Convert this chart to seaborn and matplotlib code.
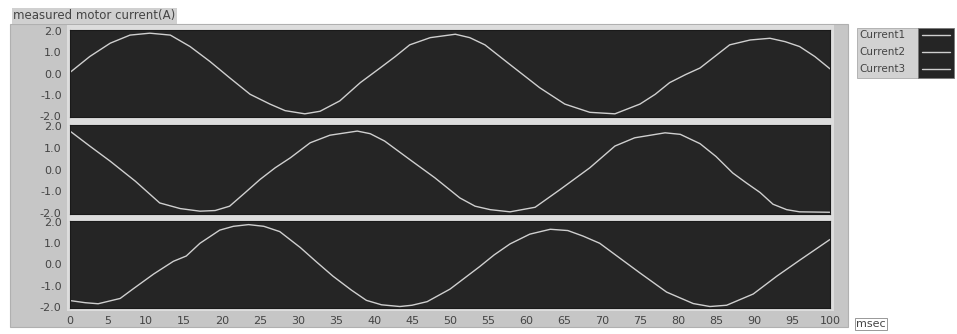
import matplotlib
matplotlib.use("Agg")
import matplotlib.pyplot as plt
from matplotlib.patches import Rectangle
from matplotlib.lines import Line2D
import pandas as pd
import seaborn as sns

# Phase currents of the motor, time in msec, current in A
t1 = [0, 2.6, 5.3, 7.9, 10.5, 13.2, 15.8, 18.4, 21, 23.7, 26.3, 28.3, 30.9, 32.9,
      35.5, 38.2, 40.8, 42.8, 44.7, 47.4, 50.7, 52.6, 54.6, 57.9, 61.8, 65.1, 68.4,
      71.7, 75, 77, 78.9, 81, 82.9, 86.8, 89.5, 92.1, 94.1, 96, 98, 100]
i1 = [0.05, 0.8, 1.43, 1.81, 1.9, 1.81, 1.27, 0.57, -0.2, -0.98, -1.44, -1.75, -1.9,
      -1.78, -1.29, -0.43, 0.26, 0.8, 1.35, 1.69, 1.85, 1.69, 1.35, 0.42, -0.67, -1.44,
      -1.83, -1.9, -1.44, -0.98, -0.43, -0.05, 0.26, 1.35, 1.58, 1.66, 1.5, 1.27, 0.8, 0.22]

t2 = [0, 2.6, 5.3, 8.6, 11.8, 14.5, 17.1, 19.1, 21, 23, 25, 27, 29, 31.6, 34.2, 37.8,
      39.5, 41.4, 44.7, 48, 51.3, 53.3, 55.3, 57.9, 61.2, 64.5, 68.4, 71.7, 74.3, 78.3,
      80.3, 82.9, 85, 87.2, 89, 90.8, 92.5, 94.3, 96, 100]
i2 = [1.77, 1.08, 0.38, -0.54, -1.54, -1.8, -1.92, -1.89, -1.69, -1.08, -0.46, 0.08,
      0.54, 1.23, 1.58, 1.77, 1.65, 1.31, 0.46, -0.38, -1.31, -1.69, -1.85, -1.95, -1.74,
      -0.92, 0.08, 1.08, 1.46, 1.69, 1.62, 1.19, 0.6, -0.16, -0.62, -1.06, -1.6, -1.85,
      -1.95, -1.97]

t3 = [0, 2, 3.7, 6.6, 8.3, 11, 13.6, 15.3, 17.1, 19.7, 21.5, 23.5, 25.5, 27.6, 30.3,
      32.5, 34.6, 37, 39, 41, 43.4, 45, 47, 50, 53.9, 55.8, 57.9, 60.5, 63.2, 65.5, 67.5,
      69.7, 71.4, 75, 78.5, 82, 84.2, 86.4, 89.9, 93, 96, 100]
i3 = [-1.7, -1.8, -1.85, -1.6, -1.15, -0.45, 0.15, 0.4, 1.0, 1.62, 1.8, 1.88, 1.8, 1.55,
      0.8, 0.1, -0.55, -1.2, -1.69, -1.9, -1.98, -1.92, -1.75, -1.16, -0.1, 0.45, 0.97,
      1.43, 1.66, 1.6, 1.34, 1.0, 0.55, -0.4, -1.3, -1.84, -1.98, -1.92, -1.39, -0.55,
      0.2, 1.18]

series_names = ["Current1", "Current2", "Current3"]
y_ticks = [2.0, 1.0, 0.0, -1.0, -2.0]
y_tick_labels = ["2.0", "1.0", "0.0", "-1.0", "-2.0"]
x_ticks = list(range(0, 101, 5))
title_text = "measured motor current(A)"
x_unit = "msec"

df = pd.concat([
    pd.DataFrame({"time": t, "current": v, "phase": n})
    for t, v, n in zip([t1, t2, t3], [i1, i2, i3], series_names)
])

sns.set_style("dark")
plt.rcParams["font.family"] = ["DejaVu Sans"]

W, H = 957, 334
fig = plt.figure(figsize=(W / 100, H / 100), dpi=100, facecolor="white")


def fig_rect(x0, y0, x1, y1, **kw):
    """Rectangle given in pixel coordinates measured from the top-left."""
    fig.patches.append(Rectangle((x0 / W, 1 - y1 / H), (x1 - x0) / W, (y1 - y0) / H,
                                 transform=fig.transFigure, figure=fig, **kw))


# panel frame and the lighter plotting column
fig_rect(10, 24, 848, 327, facecolor="#c6c6c6", edgecolor="#b0b0b0", lw=0.8, zorder=-10)
fig_rect(67, 25, 834, 311, facecolor="#dddddd", edgecolor="none", zorder=-9)

dark = "#252525"
line_col = "#cfcfcf"
text_col = "#444444"
panels = [(30, 117), (125, 214), (221, 308)]
axes = []
for k, (top, bot) in enumerate(panels):
    ax = fig.add_axes([70 / W, 1 - bot / H, 760 / W, (bot - top) / H])
    ax.set_zorder(5)
    ax.set_facecolor(dark)
    sub = df[df["phase"] == series_names[k]]
    sns.lineplot(data=sub, x="time", y="current", ax=ax, color=line_col,
                 lw=1.0, legend=False)
    ax.set_xlim(0, 100)
    ax.set_ylim(-2.05, 2.05)
    ax.set_yticks(y_ticks)
    ax.set_yticklabels(y_tick_labels)
    ax.set_xticks(x_ticks)
    ax.tick_params(axis="both", direction="out", length=4, width=0.8, color="#666666",
                   labelsize=8, labelcolor=text_col, pad=2)
    ax.set_xlabel("")
    ax.set_ylabel("")
    ax.grid(False)
    for s in ax.spines.values():
        s.set_color("#1a1a1a")
        s.set_linewidth(0.8)
    if k < 2:
        ax.tick_params(axis="x", labelbottom=False, length=0)
    axes.append(ax)

# title label
fig.text(13 / W, 1 - 16 / H, title_text, fontsize=8.5, color=text_col, va="center",
         ha="left",
         bbox=dict(boxstyle="square,pad=0.12", facecolor="#d0d0d0", edgecolor="none"))

# unit label of the time axis
fig.text(856 / W, 1 - 324 / H, x_unit, fontsize=8, color=text_col, va="center",
         ha="left",
         bbox=dict(boxstyle="square,pad=0.12", facecolor="white", edgecolor="#888888",
                   lw=0.6))

# legend: names on grey, line samples on a dark swatch
fig_rect(857, 28, 918, 78, facecolor="#d2d2d2", edgecolor="#aaaaaa", lw=0.6, zorder=1)
fig_rect(918, 28, 954, 78, facecolor=dark, edgecolor="#777777", lw=0.6, zorder=1)
for j, name in enumerate(series_names):
    yy = 1 - (35 + 17 * j) / H
    fig.text(859 / W, yy, name, fontsize=7.5, color=text_col, va="center", ha="left")
    fig.lines.append(Line2D([922 / W, 950 / W], [yy, yy], transform=fig.transFigure,
                            color=line_col, lw=1.0, figure=fig))

fig.savefig("out.png", dpi=100, facecolor="white")
